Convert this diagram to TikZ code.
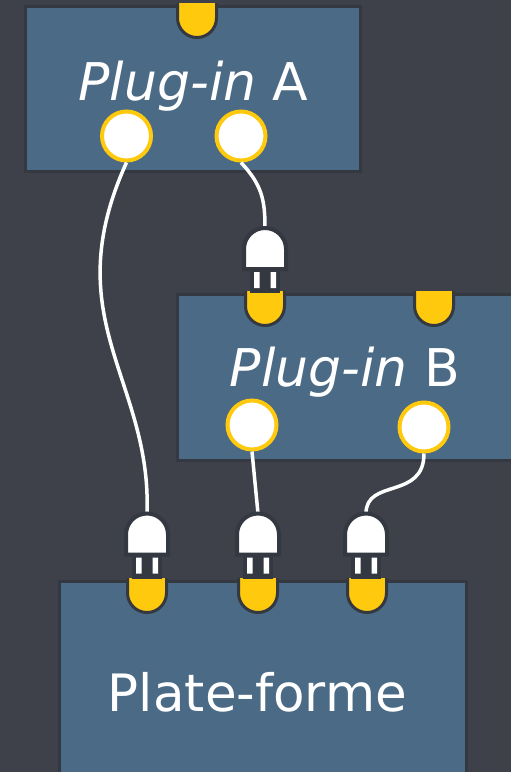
\documentclass[tikz,border=0pt]{standalone}
\usepackage{fontspec}
\setmainfont{DejaVu Sans}

\definecolor{bgdark}{HTML}{3E414A}
\definecolor{boxblue}{HTML}{4B6A85}
\definecolor{edgedark}{HTML}{343841}
\definecolor{plugyellow}{HTML}{FFC90D}

\tikzset{
  socket/.pic={\draw[edgedark, line width=3pt, fill=plugyellow] (-19.5,-2) -- (-19.5,13) arc[start angle=180, end angle=360, radius=19.5pt] -- (19.5,-2);},
  plug/.pic={
    \fill[edgedark] (-15,40) rectangle (15,65);
    \draw[edgedark, line width=4pt, fill=white] (-21,41) -- (-21,21) arc[start angle=180, end angle=0, radius=21pt] -- (21,41) -- cycle;
    \fill[white] (-11,44) rectangle (-5.5,60) (5.5,44) rectangle (11,60);}
}

\begin{document}
\begin{tikzpicture}[x=1pt, y=-1pt, font=\fontsize{51.5}{60}\selectfont]
\tikzstyle{box}=[draw=edgedark, line width=3pt, fill=boxblue, inner sep=0pt]
\tikzstyle{lbl}=[text=white, anchor=base, inner sep=0pt]
\tikzstyle{port}=[circle, draw=plugyellow, line width=4pt, fill=white, minimum size=49pt, inner sep=0pt, outer sep=2pt]
\tikzstyle{cable}=[white, line width=3.5pt]
\fill[bgdark] (0,0) rectangle (511,772);
\useasboundingbox (0,0) rectangle (511,772);
% boxes
\node[box, minimum width=335.5pt, minimum height=165.5pt] (plugA) at (193,89) {};
\node[box, minimum width=352.75pt, minimum height=166.5pt] (plugB) at (353.6,377.5) {};
\node[box, minimum width=407.5pt, minimum height=218.75pt] (platform) at (263,690.6) {};
\foreach \x/\y in {197/5,265/293,434/293,147/580,258/580,367/580}{\pic at (\x,\y) {socket};}
\node[lbl, font=\fontsize{52}{60}\selectfont] (lblA) at (193.5,100) {\textit{Plug-in} A};
\node[lbl, font=\fontsize{52}{60}\selectfont] (lblB) at (345,386.7) {\textit{Plug-in} B};
\node[lbl] (lblP) at (257.5,711.7) {Plate-forme};
% outputs and plug ends
\node[port] (outA1) at (126.5,136) {};
\node[port] (outA2) at (241,136) {};
\node[port] (outB1) at (252,425) {};
\node[port] (outB2) at (424,427) {};
\coordinate (jackB1) at (265,228);
\coordinate (jackP1) at (147,513.5);
\coordinate (jackP2) at (258,513.5);
\coordinate (jackP3) at (366,513.5);
\draw[cable] (outA1.south) .. controls (55,320) and (152,380) .. (jackP1);
\draw[cable] (outA2.south) .. controls (262,185) and (265,200) .. (jackB1);
\draw[cable] (outB1.south) -- (jackP2);
\draw[cable] (outB2.south) .. controls (424,500) and (366,478) .. (jackP3);
\foreach \j in {jackB1,jackP1,jackP2,jackP3}{\pic at (\j) {plug};}
\end{tikzpicture}
\end{document}
